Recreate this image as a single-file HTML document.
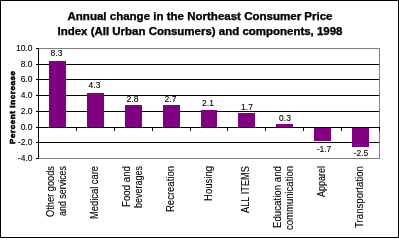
<!DOCTYPE html>
<html><head><meta charset="utf-8"><style>
html,body{margin:0;padding:0;background:#fff;overflow:hidden;}
svg{display:block;}
text{font-family:"Liberation Sans",sans-serif;fill:#000;}
text.b{stroke:#000;stroke-width:0.25px;}
</style></head><body>
<svg width="399" height="238" viewBox="0 0 399 238" shape-rendering="crispEdges">
<rect x="0" y="0" width="399" height="238" fill="#fff"/>
<rect x="0" y="0" width="399" height="1" fill="#000"/>
<rect x="0" y="237" width="399" height="1" fill="#000"/>
<rect x="0" y="0" width="1" height="238" fill="#000"/>
<rect x="398" y="0" width="1" height="238" fill="#000"/>
<rect x="39" y="64" width="340" height="1" fill="#000"/>
<rect x="39" y="79" width="340" height="1" fill="#000"/>
<rect x="39" y="95" width="340" height="1" fill="#000"/>
<rect x="39" y="111" width="340" height="1" fill="#000"/>
<rect x="39" y="142" width="340" height="1" fill="#000"/>
<rect x="49" y="61" width="17" height="66" fill="#800080"/>
<rect x="87" y="93" width="17" height="34" fill="#800080"/>
<rect x="125" y="105" width="17" height="22" fill="#800080"/>
<rect x="163" y="105" width="17" height="22" fill="#800080"/>
<rect x="201" y="110" width="16" height="17" fill="#800080"/>
<rect x="238" y="113" width="17" height="14" fill="#800080"/>
<rect x="276" y="124" width="17" height="3" fill="#800080"/>
<rect x="314" y="128" width="17" height="13" fill="#800080"/>
<rect x="352" y="128" width="17" height="19" fill="#800080"/>
<rect x="39" y="48" width="341" height="1" fill="#808080"/>
<rect x="39" y="158" width="341" height="1" fill="#808080"/>
<rect x="379" y="48" width="1" height="111" fill="#808080"/>
<rect x="39" y="127" width="340" height="1" fill="#000"/>
<rect x="38" y="48" width="1" height="111" fill="#000"/>
<rect x="36" y="48" width="2" height="1" fill="#000"/>
<rect x="36" y="64" width="2" height="1" fill="#000"/>
<rect x="36" y="79" width="2" height="1" fill="#000"/>
<rect x="36" y="95" width="2" height="1" fill="#000"/>
<rect x="36" y="111" width="2" height="1" fill="#000"/>
<rect x="36" y="127" width="2" height="1" fill="#000"/>
<rect x="36" y="142" width="2" height="1" fill="#000"/>
<rect x="36" y="158" width="2" height="1" fill="#000"/>
<rect x="76" y="127" width="1" height="4" fill="#000"/>
<rect x="114" y="127" width="1" height="4" fill="#000"/>
<rect x="152" y="127" width="1" height="4" fill="#000"/>
<rect x="190" y="127" width="1" height="4" fill="#000"/>
<rect x="227" y="127" width="1" height="4" fill="#000"/>
<rect x="265" y="127" width="1" height="4" fill="#000"/>
<rect x="303" y="127" width="1" height="4" fill="#000"/>
<rect x="341" y="127" width="1" height="4" fill="#000"/>
<rect x="379" y="127" width="1" height="4" fill="#000"/>
<defs><filter id="thr" x="0" y="0" width="399" height="238" filterUnits="userSpaceOnUse" color-interpolation-filters="sRGB">
<feComponentTransfer><feFuncA type="gamma" amplitude="1" exponent="0.8" offset="0"/></feComponentTransfer></filter></defs>
<g shape-rendering="auto" filter="url(#thr)">
<text x="200" y="20" font-size="11.5" font-weight="bold" class="b" text-anchor="middle" textLength="265" lengthAdjust="spacingAndGlyphs" >Annual change in the Northeast Consumer Price</text>
<text x="200" y="35" font-size="11.5" font-weight="bold" class="b" text-anchor="middle" textLength="285" lengthAdjust="spacingAndGlyphs" >Index (All Urban Consumers) and components, 1998</text>
<text transform="translate(15,144) rotate(-90)" font-size="8" font-weight="bold" class="b" textLength="73" lengthAdjust="spacing" style="stroke-width:0.5px">Percent increase</text>
<text x="32.5" y="51" font-size="8.5" font-weight="normal" text-anchor="end" >10.0</text>
<text x="32.5" y="67" font-size="8.5" font-weight="normal" text-anchor="end" >8.0</text>
<text x="32.5" y="82" font-size="8.5" font-weight="normal" text-anchor="end" >6.0</text>
<text x="32.5" y="98" font-size="8.5" font-weight="normal" text-anchor="end" >4.0</text>
<text x="32.5" y="114" font-size="8.5" font-weight="normal" text-anchor="end" >2.0</text>
<text x="32.5" y="130" font-size="8.5" font-weight="normal" text-anchor="end" >0.0</text>
<text x="32.5" y="145" font-size="8.5" font-weight="normal" text-anchor="end" >-2.0</text>
<text x="32.5" y="161" font-size="8.5" font-weight="normal" text-anchor="end" >-4.0</text>
<text x="56.5" y="56" font-size="8.5" font-weight="normal" text-anchor="middle" >8.3</text>
<text x="94.5" y="88" font-size="8.5" font-weight="normal" text-anchor="middle" >4.3</text>
<text x="132.5" y="102" font-size="8.5" font-weight="normal" text-anchor="middle" >2.8</text>
<text x="170.5" y="102" font-size="8.5" font-weight="normal" text-anchor="middle" >2.7</text>
<text x="208" y="106" font-size="8.5" font-weight="normal" text-anchor="middle" >2.1</text>
<text x="247" y="110" font-size="8.5" font-weight="normal" text-anchor="middle" >1.7</text>
<text x="285" y="121" font-size="8.5" font-weight="normal" text-anchor="middle" >0.3</text>
<text x="324" y="152" font-size="8.5" font-weight="normal" text-anchor="middle" >-1.7</text>
<text x="361" y="156" font-size="8.5" font-weight="normal" text-anchor="middle" >-2.5</text>
<text transform="translate(54,217) rotate(-90)" font-size="10" font-weight="normal" textLength="51" lengthAdjust="spacingAndGlyphs" >Other goods</text>
<text transform="translate(66,216) rotate(-90)" font-size="10" font-weight="normal" textLength="50" lengthAdjust="spacingAndGlyphs" >and services</text>
<text transform="translate(98,219) rotate(-90)" font-size="10" font-weight="normal" textLength="53" lengthAdjust="spacingAndGlyphs" >Medical care</text>
<text transform="translate(130,207) rotate(-90)" font-size="10" font-weight="normal" textLength="41" lengthAdjust="spacingAndGlyphs" >Food and</text>
<text transform="translate(142,208) rotate(-90)" font-size="10" font-weight="normal" textLength="42" lengthAdjust="spacingAndGlyphs" >beverages</text>
<text transform="translate(174,212) rotate(-90)" font-size="10" font-weight="normal" textLength="46" lengthAdjust="spacingAndGlyphs" >Recreation</text>
<text transform="translate(212,201) rotate(-90)" font-size="10" font-weight="normal" textLength="35" lengthAdjust="spacingAndGlyphs" >Housing</text>
<text transform="translate(249,213) rotate(-90)" font-size="10" font-weight="normal" textLength="47" lengthAdjust="spacingAndGlyphs" >ALL ITEMS</text>
<text transform="translate(281,228) rotate(-90)" font-size="10" font-weight="normal" textLength="62" lengthAdjust="spacingAndGlyphs" >Education and</text>
<text transform="translate(293,230) rotate(-90)" font-size="10" font-weight="normal" textLength="64" lengthAdjust="spacingAndGlyphs" >communication</text>
<text transform="translate(325,197) rotate(-90)" font-size="10" font-weight="normal" textLength="31" lengthAdjust="spacingAndGlyphs" >Apparel</text>
<text transform="translate(363,228) rotate(-90)" font-size="10" font-weight="normal" textLength="62" lengthAdjust="spacingAndGlyphs" >Transportation</text>
</g>
</svg>
</body></html>
